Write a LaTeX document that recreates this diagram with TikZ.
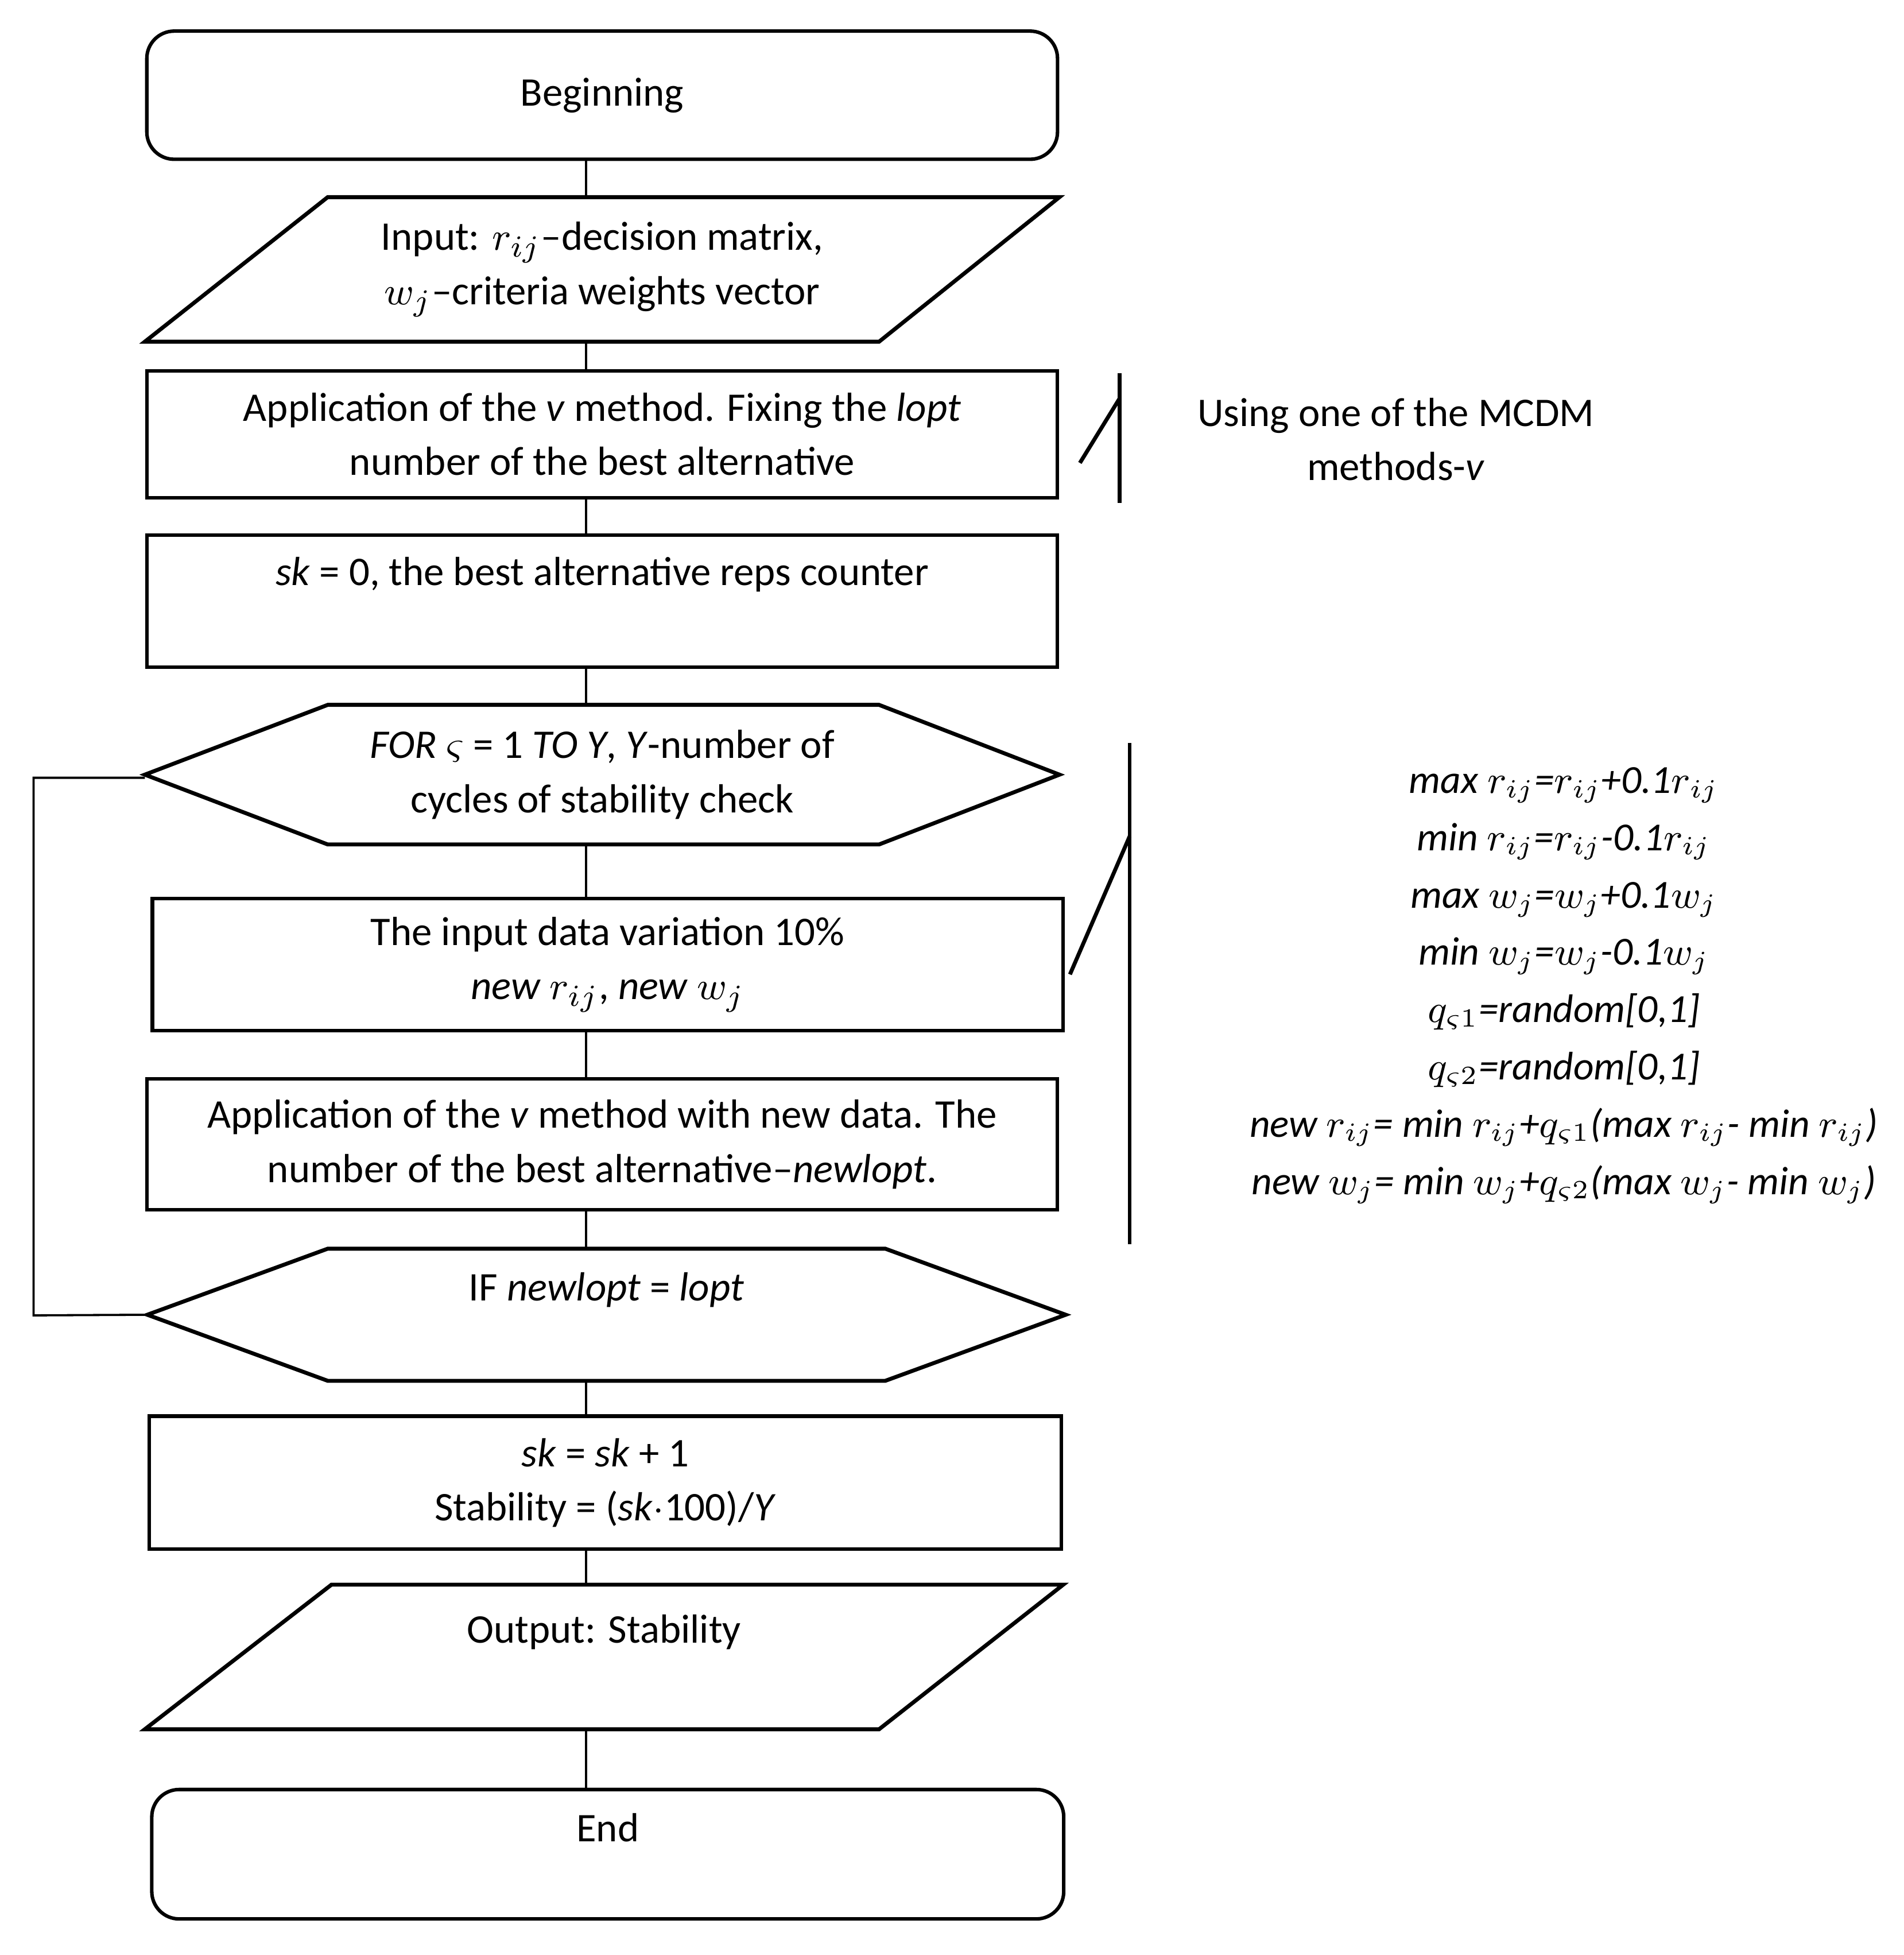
\documentclass[tikz,border=0pt]{standalone}
\usepackage{fontspec}
\setmainfont{Carlito}
\usetikzlibrary{calc}
\begin{document}
\begin{tikzpicture}[
  x=1cm,y=1cm,
  every node/.style={font=\fontsize{9.3}{12.4}\selectfont,align=center},
  blk/.style={draw,rectangle,thick,minimum width=7.32cm,inner sep=0pt},
  rblk/.style={blk,rounded corners=0.22cm},
  ghost/.style={rectangle,minimum width=7.32cm,inner sep=0pt},
  every path/.style={line width=0.9pt},
  ]
  \useasboundingbox (0,0) rectangle (15.3,-15.71);
  \coordinate (axis) at (4.71,0);
  % main column
  \node[rblk,minimum height=1.03cm] (beg) at (4.84,-0.765) {Beginning};
  \node[ghost,minimum height=1.13cm] (inp) at (4.84,-2.165)
    {Input: $r_{ij}$--decision matrix,\\ $w_j$--criteria weights vector};
  \draw (inp.south west) -- ($(inp.north west)+(1.47,0)$) -- (inp.north east)
    -- ($(inp.south east)+(-1.45,0)$) -- cycle;
  \node[blk,minimum height=1.02cm] (fix) at (4.84,-3.49)
    {Application of the \emph{v} method. Fixing the \emph{lopt}\\ number of the best alternative};
  \node[blk,minimum height=1.06cm] (cnt) at (4.84,-4.83) {};
  \node at ([yshift=-0.33cm]cnt.north) {\emph{sk} = 0, the best alternative reps counter};
  \node[ghost,minimum height=1.09cm] (for) at (4.84,-6.225)
    {\emph{FOR} $\varsigma$ = 1 \emph{TO Y}, \emph{Y}-number of\\ cycles of stability check};
  \draw (for.west) -- ($(for.north west)+(1.47,0)$) -- ($(for.north east)+(-1.45,0)$)
    -- (for.east) -- ($(for.south east)+(-1.45,0)$) -- ($(for.south west)+(1.47,0)$) -- cycle;
  \node[blk,minimum height=1.06cm] (var) at (4.885,-7.75)
    {The input data variation 10\%\\ \emph{new} $r_{ij}$, \emph{new} $w_j$};
  \node[blk,minimum height=1.05cm] (app) at (4.84,-9.195)
    {Application of the \emph{v} method with new data. The\\ number of the best alternative--\emph{newlopt}.};
  \node[ghost,minimum height=1.03cm,minimum width=7.35cm] (if) at (4.875,-10.565) {};
  \draw (if.west) -- ($(if.north west)+(1.45,0)$) -- ($(if.north east)+(-1.45,0)$)
    -- (if.east) -- ($(if.south east)+(-1.45,0)$) -- ($(if.south west)+(1.45,0)$) -- cycle;
  \node at ([yshift=-0.33cm]if.north) {IF \emph{newlopt} = \emph{lopt}};
  \node[blk,minimum height=1.07cm,minimum width=7.33cm] (stab) at (4.865,-11.915)
    {\emph{sk} = \emph{sk} + 1\\ Stability = (\emph{sk}$\cdot$100)/\emph{Y}};
  \node[ghost,minimum height=1.13cm,minimum width=7.35cm] (out) at (4.855,-13.315) {};
  \draw (out.south west) -- ($(out.north west)+(1.5,0)$) -- (out.north east)
    -- ($(out.south east)+(-1.48,0)$) -- cycle;
  \node at ([yshift=-0.38cm]out.north) {Output: Stability};
  \node[rblk,minimum height=1.04cm,minimum width=7.33cm] (end) at (4.885,-14.9) {};
  \node at ([yshift=-0.32cm]end.north) {End};
  % connectors
  \foreach \a/\b in {beg/inp,inp/fix,fix/cnt,cnt/for,for/var,var/app,app/if,if/stab,stab/out,out/end}
    \draw[line width=0.6pt] (\a.south -| axis) -- (\b.north -| axis);
  % loop back
  \coordinate (lb) at (0.27,-10.57);
  \coordinate (lt) at (0.27,-6.25);
  \draw[line width=0.5pt] (if.west) -- (lb) -- (lt) -- (for.west |- lt);
  % annotations
  \draw (9.0,-3.0) -- (9.0,-4.04);
  \draw (8.68,-3.72) -- (9.0,-3.2);
  \node (mcdm) at (11.22,-3.53) {Using one of the MCDM\\ methods-\emph{v}};
  \draw (9.08,-5.97) -- (9.08,-10.0);
  \draw (8.6,-7.83) -- (9.08,-6.72);
  \node[font=\fontsize{9.1}{13.1}\selectfont\itshape] (eqs) at (12.57,-7.92)
    {max $r_{ij}$=$r_{ij}$+0.1$r_{ij}$\\
     min $r_{ij}$=$r_{ij}$-0.1$r_{ij}$\\
     max $w_j$=$w_j$+0.1$w_j$\\
     min $w_j$=$w_j$-0.1$w_j$\\
     $q_{\varsigma1}$=random[0,1]\\
     $q_{\varsigma2}$=random[0,1]\\
     new $r_{ij}$= min $r_{ij}$+$q_{\varsigma1}$(max $r_{ij}$- min $r_{ij}$)\\
     new $w_j$= min $w_j$+$q_{\varsigma2}$(max $w_j$- min $w_j$)};
\end{tikzpicture}
\end{document}
